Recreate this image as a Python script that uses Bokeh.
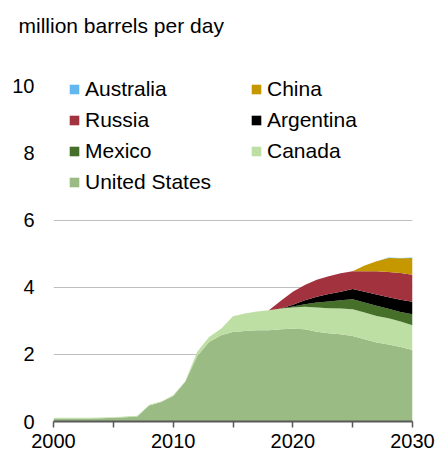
from bokeh.plotting import figure
from bokeh.models import Range1d, FixedTicker, Legend, LegendItem, Title, ColumnDataSource
from bokeh.embed import file_html
from bokeh.resources import INLINE

years = list(range(2000, 2031))
united_states = [0.09, 0.09, 0.09, 0.09, 0.10, 0.11, 0.13, 0.15, 0.48, 0.58, 0.76, 1.18, 1.95, 2.37,
                 2.57, 2.67, 2.70, 2.72, 2.72, 2.75, 2.77, 2.75, 2.68, 2.63, 2.60, 2.55, 2.45, 2.36,
                 2.30, 2.22, 2.13]
canada = [0.02] * 12 + [0.12, 0.15, 0.20, 0.47, 0.52, 0.56, 0.60, 0.62, 0.63, 0.67, 0.72, 0.75, 0.77,
                        0.80, 0.80, 0.79, 0.78, 0.76, 0.74]
mexico = [0] * 20 + [0.03, 0.08, 0.15, 0.20, 0.25, 0.30, 0.30, 0.30, 0.28, 0.29, 0.33]
argentina = [0] * 20 + [0.05, 0.12, 0.17, 0.22, 0.25, 0.30, 0.32, 0.34, 0.35, 0.36, 0.37]
russia = [0] * 19 + [0.23, 0.39, 0.45, 0.51, 0.53, 0.55, 0.53, 0.61, 0.69, 0.75, 0.80, 0.81]
china = [0] * 26 + [0.17, 0.30, 0.42, 0.44, 0.50]
australia = [0] * 28 + [0.01, 0.01, 0.01]

series = ["United States", "Canada", "Mexico", "Argentina", "Russia", "China", "Australia"]
keys = ["us", "canada", "mexico", "argentina", "russia", "china", "australia"]
colors = ["#9BBB85", "#BEDFA3", "#46702A", "#000000", "#A3323F", "#C59800", "#62B8EE"]
legend_order = ["Australia", "China", "Russia", "Argentina", "Mexico", "Canada", "United States"]
y_ticks = [0, 2, 4, 6, 8, 10]
x_ticks = [2000, 2010, 2020, 2030]
x_minor = [2005, 2015, 2025]

FONT = "Liberation Sans"

src = ColumnDataSource(dict(year=years, us=united_states, canada=canada, mexico=mexico,
                            argentina=argentina, russia=russia, china=china, australia=australia))

p = figure(width=436, height=457, output_backend="svg", toolbar_location=None,
           x_range=Range1d(2000, 2030), y_range=Range1d(0, 10.5),
           min_border_left=53, min_border_right=24, min_border_top=69, min_border_bottom=36)
p.outline_line_color = None
p.background_fill_color = "white"

rs = p.varea_stack(stackers=keys, x="year", color=colors, source=src)

items = []
for name in legend_order:
    r = rs[series.index(name)]
    items.append(LegendItem(label=name, renderers=[r]))

leg = Legend(items=items, orientation="horizontal", ncols=2, location=(15, 225),
             glyph_width=12, glyph_height=12, label_standoff=5, label_width=162, label_height=28,
             spacing=3, padding=0, margin=0, border_line_color=None, background_fill_alpha=0,
             label_text_font=FONT, label_text_font_size="21px", label_text_color="#000000")
p.add_layout(leg, "center")

# empty spacer title nearest the frame, then the real title above it
spacer = Title(text=" ", standoff=0, text_font=FONT, text_font_size="28px")
p.add_layout(spacer, "above")
title = Title(text="million barrels per day", align="left", offset=-35, standoff=0,
              text_font=FONT, text_font_size="21px", text_font_style="normal", text_color="#000000")
p.add_layout(title, "above")

# axes
p.yaxis.ticker = FixedTicker(ticks=y_ticks)
p.yaxis.axis_line_color = None
p.yaxis.major_tick_line_color = None
p.yaxis.major_tick_out = 0
p.yaxis.minor_tick_line_color = None
p.yaxis.major_label_standoff = 19
p.yaxis.major_label_text_font = FONT
p.yaxis.major_label_text_font_size = "20px"
p.yaxis.major_label_text_color = "#000000"

p.xaxis.ticker = FixedTicker(ticks=x_ticks, minor_ticks=x_minor)
p.xaxis.axis_line_color = "#595959"
p.xaxis.axis_line_width = 2
p.xaxis.major_tick_line_color = "#595959"
p.xaxis.minor_tick_line_color = "#595959"
p.xaxis.major_tick_line_width = 1.5
p.xaxis.minor_tick_line_width = 1.5
p.xaxis.major_tick_in = 0
p.xaxis.major_tick_out = 6
p.xaxis.minor_tick_in = 0
p.xaxis.minor_tick_out = 6
p.xaxis.major_label_standoff = 6
p.xaxis.major_label_text_font = FONT
p.xaxis.major_label_text_font_size = "20px"
p.xaxis.major_label_text_color = "#000000"

p.xgrid.grid_line_color = None
p.ygrid.ticker = FixedTicker(ticks=[2, 4, 6])
p.ygrid.grid_line_color = "#bfbfbf"

open("out.html", "w").write(file_html(p, INLINE))
